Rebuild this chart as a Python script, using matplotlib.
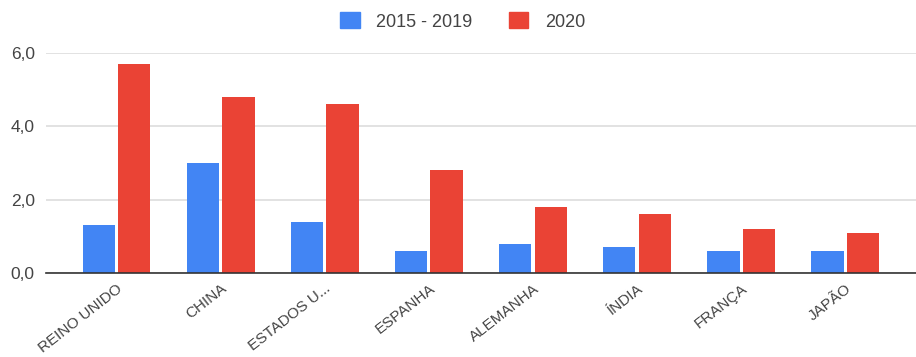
import numpy as np
import matplotlib.pyplot as plt
from matplotlib.patches import Patch

paises = ["REINO UNIDO", "CHINA", "ESTADOS U...", "ESPANHA",
          "ALEMANHA", "ÍNDIA", "FRANÇA", "JAPÃO"]
media_2015_2019 = [1.3, 3.0, 1.4, 0.6, 0.8, 0.7, 0.6, 0.6]
valores_2020 = [5.7, 4.8, 4.6, 2.8, 1.8, 1.6, 1.2, 1.1]
yticks = [0, 2, 4, 6]

azul = "#4285F4"
vermelho = "#EA4335"
cinza = "#444444"

plt.rcParams["font.family"] = ["Liberation Sans", "DejaVu Sans"]

fig = plt.figure(figsize=(9.16, 3.57), dpi=100)
ax = fig.add_axes([0.050, 0.235, 0.950, 0.617])

x = np.arange(len(paises))
w = 0.31
gap = 0.015
ax.bar(x - w / 2 - gap, media_2015_2019, width=w, color=azul, zorder=3)
ax.bar(x + w / 2 + gap, valores_2020, width=w, color=vermelho, zorder=3)

ax.set_xlim(-0.68, len(paises) - 1 + 0.68)
ax.set_ylim(0, 6)
ax.set_yticks(yticks)
ax.set_yticklabels([f"{v:.1f}".replace(".", ",") for v in yticks],
                   fontsize=12.5, color=cinza)
ax.set_xticks(x)
ax.set_xticklabels(paises, rotation=38, ha="right", rotation_mode="anchor",
                   fontsize=11, color=cinza)
ax.tick_params(length=0, pad=8)
ax.tick_params(axis="x", pad=6)

ax.yaxis.grid(True, color="#dddddd", linewidth=1.2, zorder=0)
for s in ["top", "right", "left"]:
    ax.spines[s].set_visible(False)
ax.spines["bottom"].set_color("#333333")
ax.spines["bottom"].set_linewidth(1.2)
ax.spines["bottom"].set_zorder(4)

handles = [Patch(color=azul, label="2015 - 2019"),
           Patch(color=vermelho, label="2020")]
fig.legend(handles=handles, loc="center", bbox_to_anchor=(0.505, 0.94),
           ncol=2, frameon=False, fontsize=13, handlelength=1.1,
           handleheight=1.0, columnspacing=2.0, handletextpad=0.9,
           labelcolor=cinza)

fig.savefig("out.png", dpi=100)
